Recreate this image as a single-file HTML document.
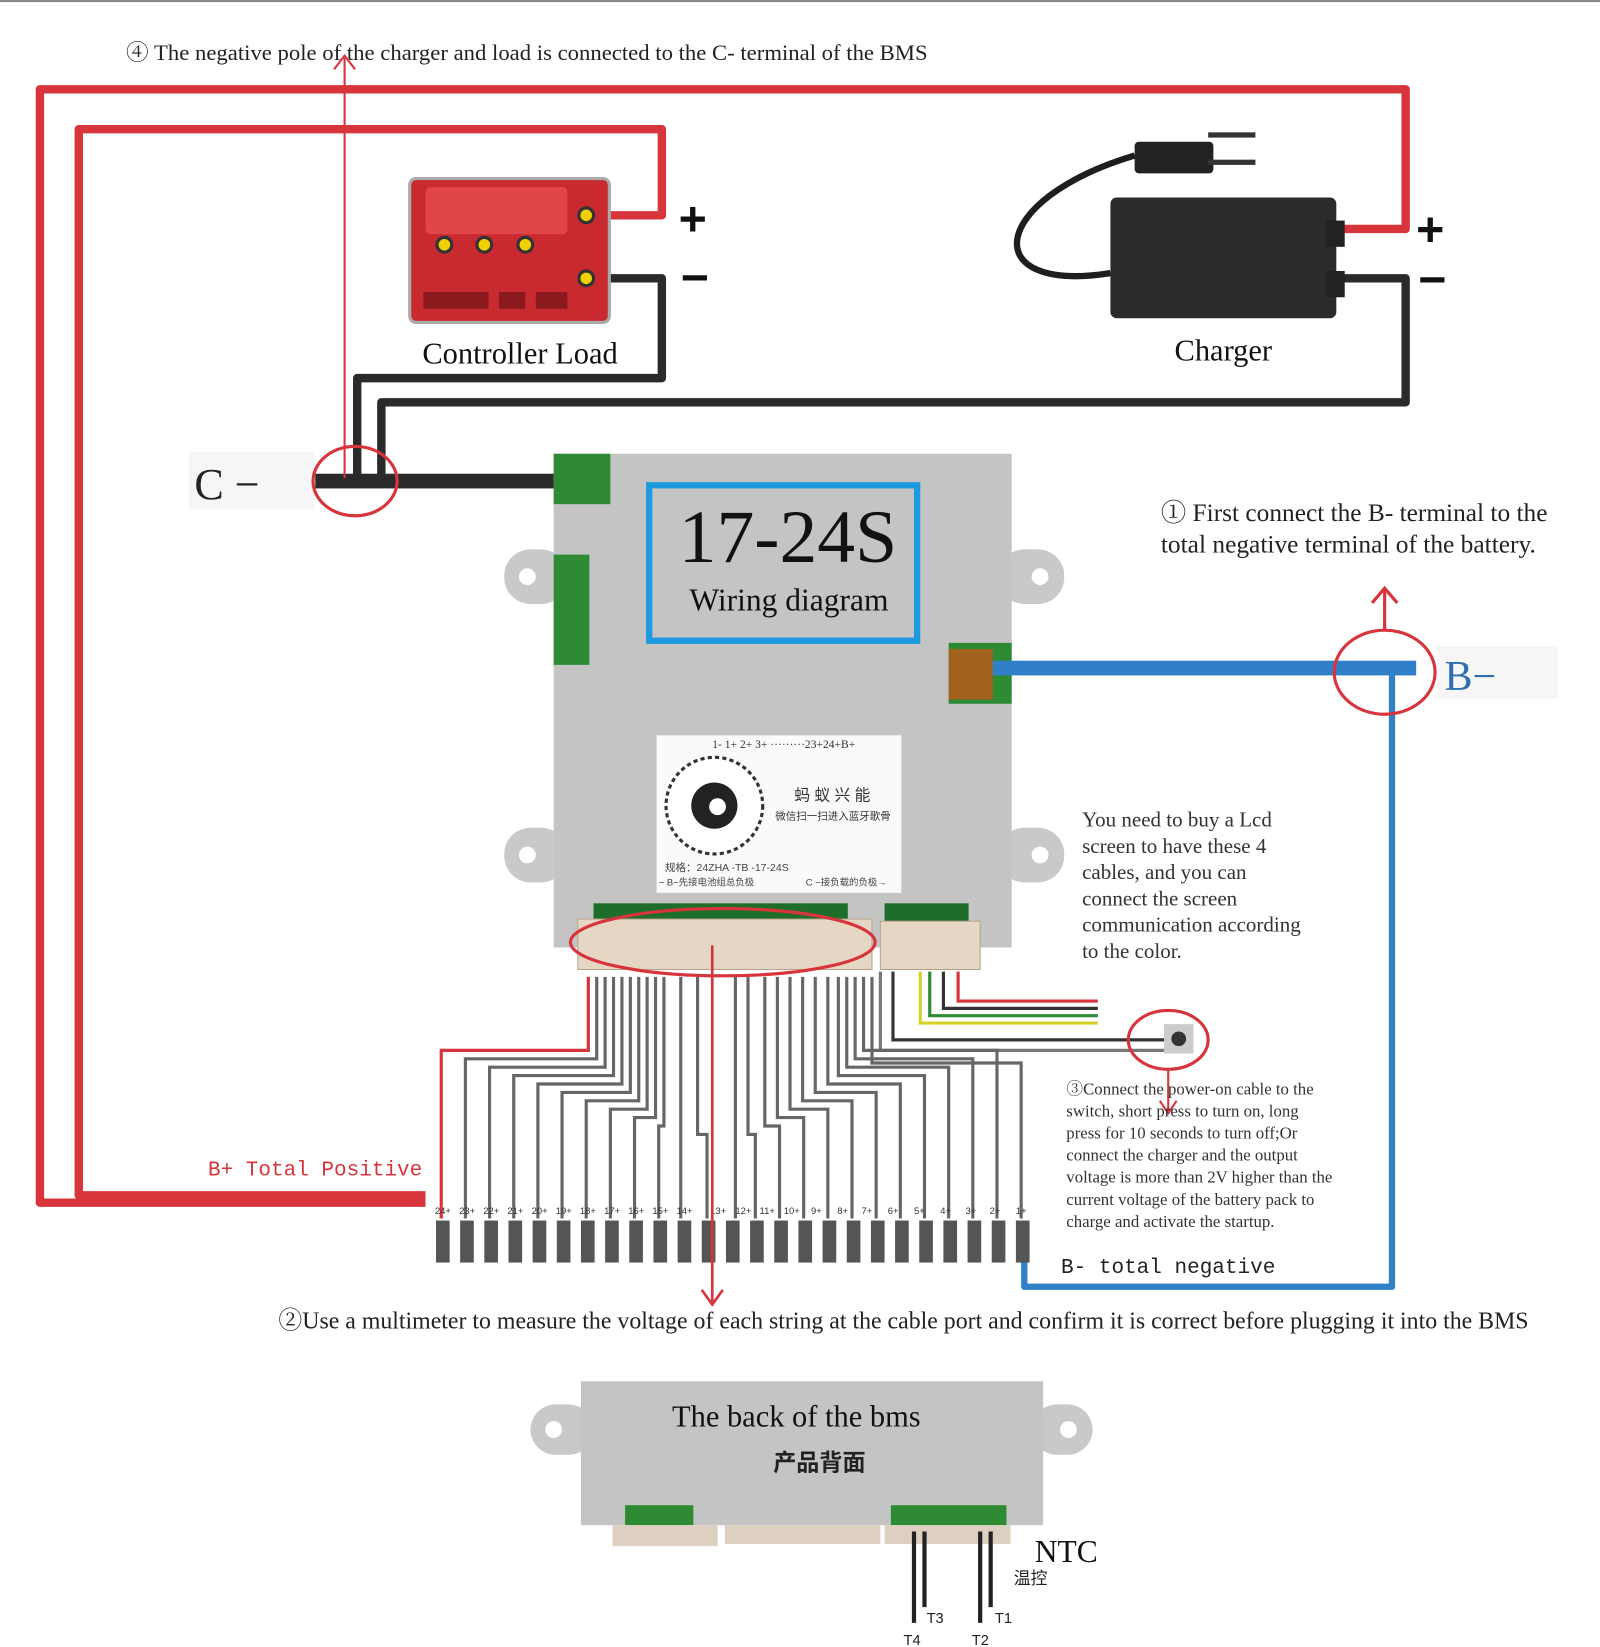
<!DOCTYPE html>
<html><head><meta charset="utf-8"><style>
html,body{margin:0;padding:0;background:#fff;}
svg{display:block;}
.s{font-family:"Liberation Serif","Noto Serif CJK SC",serif;}
.m{font-family:"Liberation Mono",monospace;}
.c{font-family:"Liberation Sans","Noto Sans CJK SC",sans-serif;}
</style></head><body>
<svg width="1600" height="1647" viewBox="0 0 1523 1568" preserveAspectRatio="none" xmlns="http://www.w3.org/2000/svg">
<rect width="1523" height="1568" fill="#fff"/>
<line x1="0" y1="1" x2="1523" y2="1" stroke="#888" stroke-width="2"/>
<text x="120" y="57" class="s" font-size="21" fill="#222" textLength="763" lengthAdjust="spacingAndGlyphs">④ The negative pole of the charger and load is connected to the C- terminal of the BMS</text>

<path d="M405 1145 H38 V85 H1338 V218 H1275" fill="none" stroke="#d8343b" stroke-width="8" stroke-linejoin="round"/>
<path d="M405 1138 H75 V123 H630 V205 H560" fill="none" stroke="#d8343b" stroke-width="8" stroke-linejoin="round"/>
<path d="M560 265 H630 V360 H340 V458" fill="none" stroke="#2a2a2a" stroke-width="8" stroke-linejoin="round"/>
<path d="M1275 265 H1338 V383 H363 V458" fill="none" stroke="#2a2a2a" stroke-width="8" stroke-linejoin="round"/>
<rect x="300" y="451" width="242" height="14" fill="#2a2a2a"/>
<rect x="180" y="430" width="120" height="55" fill="#f6f6f6"/>
<text x="185" y="475" class="s" font-size="42" fill="#222">C −</text>
<line x1="328" y1="455" x2="328" y2="55" stroke="#d8343b" stroke-width="2"/>
<path d="M318 66 L328 53 L338 66" fill="none" stroke="#d8343b" stroke-width="2"/>
<ellipse cx="338" cy="458" rx="40" ry="33" fill="none" stroke="#d8343b" stroke-width="3"/>

<rect x="390" y="170" width="190" height="137" rx="6" fill="#c92a2f" stroke="#aaa" stroke-width="3"/>
<rect x="405" y="178" width="135" height="45" rx="5" fill="#e0454a"/>
<g fill="#f0d000" stroke="#333" stroke-width="3">
<circle cx="423" cy="233" r="7"/><circle cx="461" cy="233" r="7"/><circle cx="500" cy="233" r="7"/><circle cx="558" cy="205" r="7"/><circle cx="558" cy="265" r="7"/></g>
<rect x="403" y="278" width="62" height="16" fill="#8a1a1d"/><rect x="475" y="278" width="25" height="16" fill="#8a1a1d"/><rect x="510" y="278" width="30" height="16" fill="#8a1a1d"/>
<text x="646" y="224" class="c" font-size="46" font-weight="bold" fill="#111">+</text>
<text x="648" y="280" class="c" font-size="46" font-weight="bold" fill="#111">−</text>
<text x="402" y="346" class="s" font-size="29" fill="#111">Controller Load</text>

<path d="M1057 260 C930 280 940 190 1080 148" fill="none" stroke="#1e1e1e" stroke-width="6"/>
<rect x="1080" y="135" width="75" height="30" rx="4" fill="#222"/>
<rect x="1150" y="126" width="45" height="5" fill="#333"/><rect x="1150" y="152" width="45" height="5" fill="#333"/>
<rect x="1057" y="188" width="215" height="115" rx="6" fill="#2b2b2b"/>
<rect x="1262" y="210" width="18" height="25" fill="#222"/><rect x="1262" y="258" width="18" height="25" fill="#222"/>
<text x="1348" y="234" class="c" font-size="46" font-weight="bold" fill="#111">+</text>
<text x="1350" y="282" class="c" font-size="46" font-weight="bold" fill="#111">−</text>
<text x="1118" y="343" class="s" font-size="29" fill="#111">Charger</text>

<g fill="#c9c9c9">
<rect x="480" y="523" width="60" height="52" rx="25"/><rect x="480" y="788" width="60" height="52" rx="25"/>
<rect x="950" y="523" width="63" height="52" rx="25"/><rect x="950" y="788" width="63" height="52" rx="25"/></g>
<g fill="#fff"><circle cx="502" cy="549" r="8"/><circle cx="502" cy="814" r="8"/><circle cx="990" cy="549" r="8"/><circle cx="990" cy="814" r="8"/></g>
<rect x="527" y="432" width="436" height="470" fill="#c4c4c4"/>
<rect x="527" y="432" width="54" height="48" fill="#2e8b34"/>
<rect x="527" y="528" width="34" height="105" fill="#2e8b34"/>
<rect x="903" y="612" width="60" height="58" fill="#2e8b34"/>
<rect x="903" y="618" width="42" height="48" fill="#a2621d"/>
<rect x="618" y="462" width="255" height="148" fill="#c4c4c4" stroke="#1e9be0" stroke-width="6"/>
<text x="750" y="535" class="s" font-size="72" fill="#111" text-anchor="middle">17-24S</text>
<text x="751" y="581" class="s" font-size="30" fill="#111" text-anchor="middle">Wiring diagram</text>
<rect x="625" y="700" width="233" height="150" fill="#fafafa"/>
<text x="678" y="712" class="s" font-size="11" fill="#333">1- 1+ 2+ 3+ ·········23+24+B+</text>
<circle cx="680" cy="767" r="46" fill="#fff" stroke="#333" stroke-width="3" stroke-dasharray="4 3"/>
<circle cx="680" cy="767" r="22" fill="#222"/><circle cx="683" cy="768" r="8" fill="#fff"/>
<text x="756" y="762" class="c" font-size="15" fill="#333">蚂 蚁 兴 能</text>
<text x="738" y="780" class="c" font-size="10" fill="#333">微信扫一扫进入蓝牙歌骨</text>
<text x="633" y="829" class="c" font-size="10" fill="#444">规格：24ZHA -TB -17-24S</text>
<text x="627" y="843" class="c" font-size="9" fill="#444">− B−先接电池组总负极</text>
<text x="767" y="843" class="c" font-size="9" fill="#444">C −接负载的负极→</text>
<rect x="565" y="860" width="242" height="22" fill="#1f6d2a"/>
<rect x="842" y="860" width="80" height="22" fill="#1f6d2a"/>
<rect x="550" y="875" width="280" height="48" fill="#e6d6c4" stroke="#b8a48e"/>
<rect x="838" y="877" width="95" height="46" fill="#e6d6c4" stroke="#b8a48e"/>
<ellipse cx="688" cy="897" rx="145" ry="32" fill="none" stroke="#d8343b" stroke-width="3"/>
<rect x="945" y="629" width="403" height="14" fill="#2f7fc9"/>
<path d="M1325 640 V1225 H975 V1195" fill="none" stroke="#2f7fc9" stroke-width="6" stroke-linejoin="round"/>
<ellipse cx="1318" cy="640" rx="48" ry="40" fill="none" stroke="#d8343b" stroke-width="3"/>
<line x1="1318" y1="600" x2="1318" y2="562" stroke="#d8343b" stroke-width="3"/>
<path d="M1306 574 L1318 560 L1330 574" fill="none" stroke="#d8343b" stroke-width="3"/>
<rect x="1368" y="615" width="115" height="50" fill="#f6f6f6"/>
<text x="1375" y="657" class="s" font-size="40" fill="#2f6fb0">B−</text>
<text x="1105" y="496" class="s" font-size="24" fill="#222" textLength="368" lengthAdjust="spacingAndGlyphs">① First connect the B- terminal to the</text>
<text x="1105" y="526" class="s" font-size="24" fill="#222" textLength="357" lengthAdjust="spacingAndGlyphs">total negative terminal of the battery.</text>
<g class="s" font-size="20" fill="#333">
<text x="1030" y="787">You need to buy a Lcd</text><text x="1030" y="812">screen to have these 4</text><text x="1030" y="837">cables, and you can</text><text x="1030" y="862">connect the screen</text><text x="1030" y="887">communication according</text><text x="1030" y="912"> to the color.</text></g>
<path d="M912 925 V953 H1045" fill="none" stroke="#d8343b" stroke-width="3"/>
<path d="M898 925 V960 H1045" fill="none" stroke="#333" stroke-width="3"/>
<path d="M885 925 V967 H1045" fill="none" stroke="#2e8b34" stroke-width="3"/>
<path d="M876 925 V974 H1045" fill="none" stroke="#d6d02a" stroke-width="3"/>
<path d="M850 925 V990 H1110" fill="none" stroke="#333" stroke-width="3"/>
<path d="M838 925 V1000 H1110" fill="none" stroke="#777" stroke-width="3"/>
<rect x="1108" y="975" width="28" height="28" fill="#ccc"/><circle cx="1122" cy="989" r="7" fill="#333"/>
<ellipse cx="1112" cy="990" rx="38" ry="28" fill="none" stroke="#d8343b" stroke-width="3"/>
<line x1="1112" y1="1018" x2="1112" y2="1058" stroke="#d8343b" stroke-width="2"/>
<path d="M1104 1048 L1112 1060 L1120 1048" fill="none" stroke="#d8343b" stroke-width="2"/>
<g fill="none" stroke="#666" stroke-width="3">
<path d="M560 930 V1000 H420 V1160" stroke="#d8343b"/>
<path d="M568 930 V1008 H443 V1160"/><path d="M576 930 V1016 H466 V1160"/><path d="M584 930 V1024 H489 V1160"/><path d="M592 930 V1032 H512 V1160"/><path d="M600 930 V1040 H535 V1160"/><path d="M608 930 V1048 H558 V1160"/><path d="M616 930 V1056 H581 V1160"/><path d="M624 930 V1064 H604 V1160"/><path d="M632 930 V1072 H627 V1160"/><path d="M648 930 V1160"/><path d="M664 930 V1080 H673 V1160"/>
<path d="M700 930 V1160"/><path d="M712 930 V1080 H719 V1160"/><path d="M728 930 V1072 H742 V1160"/><path d="M740 930 V1064 H765 V1160"/><path d="M752 930 V1056 H788 V1160"/><path d="M764 930 V1048 H811 V1160"/><path d="M776 930 V1040 H834 V1160"/><path d="M788 930 V1032 H857 V1160"/><path d="M798 930 V1024 H880 V1160"/><path d="M806 930 V1016 H903 V1160"/><path d="M814 930 V1008 H926 V1160"/><path d="M822 930 V1000 H949 V1160"/><path d="M830 930 V1012 H972 V1160"/></g>
<g fill="#555">
<rect x="415" y="1162" width="13" height="40"/><rect x="438" y="1162" width="13" height="40"/><rect x="461" y="1162" width="13" height="40"/><rect x="484" y="1162" width="13" height="40"/><rect x="507" y="1162" width="13" height="40"/><rect x="530" y="1162" width="13" height="40"/><rect x="553" y="1162" width="13" height="40"/><rect x="576" y="1162" width="13" height="40"/><rect x="599" y="1162" width="13" height="40"/><rect x="622" y="1162" width="13" height="40"/><rect x="645" y="1162" width="13" height="40"/><rect x="668" y="1162" width="13" height="40"/><rect x="691" y="1162" width="13" height="40"/><rect x="714" y="1162" width="13" height="40"/><rect x="737" y="1162" width="13" height="40"/><rect x="760" y="1162" width="13" height="40"/><rect x="783" y="1162" width="13" height="40"/><rect x="806" y="1162" width="13" height="40"/><rect x="829" y="1162" width="13" height="40"/><rect x="852" y="1162" width="13" height="40"/><rect x="875" y="1162" width="13" height="40"/><rect x="898" y="1162" width="13" height="40"/><rect x="921" y="1162" width="13" height="40"/><rect x="944" y="1162" width="13" height="40"/><rect x="967" y="1162" width="13" height="40"/></g>
<g class="c" font-size="9" fill="#333">
<text x="414" y="1156">24+</text><text x="437" y="1156">23+</text><text x="460" y="1156">22+</text><text x="483" y="1156">21+</text><text x="506" y="1156">20+</text><text x="529" y="1156">19+</text><text x="552" y="1156">18+</text><text x="575" y="1156">17+</text><text x="598" y="1156">16+</text><text x="621" y="1156">15+</text><text x="644" y="1156">14+</text><text x="676" y="1156">13+</text><text x="700" y="1156">12+</text><text x="723" y="1156">11+</text><text x="746" y="1156">10+</text><text x="772" y="1156">9+</text><text x="797" y="1156">8+</text><text x="820" y="1156">7+</text><text x="845" y="1156">6+</text><text x="870" y="1156">5+</text><text x="895" y="1156">4+</text><text x="919" y="1156">3+</text><text x="942" y="1156">2+</text><text x="967" y="1156">1+</text></g>
<text x="198" y="1119" class="m" font-size="20" fill="#d8343b">B+ Total Positive</text>
<line x1="678" y1="900" x2="678" y2="1240" stroke="#d8343b" stroke-width="2.5"/>
<path d="M668 1228 L678 1242 L688 1228" fill="none" stroke="#d8343b" stroke-width="2.5"/>
<g class="s" font-size="16" fill="#333">
<text x="1015" y="1042">③Connect the power-on cable to the</text><text x="1015" y="1063">switch, short press to turn on, long</text><text x="1015" y="1084">press for 10 seconds to turn off;Or</text><text x="1015" y="1105">connect the charger and the output</text><text x="1015" y="1126">voltage is more than 2V higher than the</text><text x="1015" y="1147"> current voltage of the battery pack to</text><text x="1015" y="1168">charge and activate the startup.</text></g>
<text x="1010" y="1212" class="m" font-size="20" fill="#222">B- total negative</text>
<text x="265" y="1265" class="s" font-size="23" fill="#222" textLength="1190" lengthAdjust="spacingAndGlyphs">②Use a multimeter to measure the voltage of each string at the cable port and confirm it is correct before plugging it into the BMS</text>

<rect x="505" y="1337" width="60" height="48" rx="24" fill="#c9c9c9"/><rect x="982" y="1337" width="58" height="48" rx="24" fill="#c9c9c9"/>
<circle cx="527" cy="1361" r="8" fill="#fff"/><circle cx="1017" cy="1361" r="8" fill="#fff"/>
<rect x="553" y="1315" width="440" height="137" fill="#c4c4c4"/>
<rect x="595" y="1433" width="65" height="19" fill="#2e8b34"/><rect x="848" y="1433" width="110" height="19" fill="#2e8b34"/>
<rect x="583" y="1452" width="100" height="20" fill="#ddd0c0"/><rect x="690" y="1452" width="148" height="18" fill="#ddd0c0"/><rect x="842" y="1452" width="120" height="18" fill="#ddd0c0"/>
<text x="758" y="1358" class="s" font-size="29" fill="#111" text-anchor="middle">The back of the bms</text>
<text x="780" y="1400" class="c" font-size="22" font-weight="bold" fill="#222" text-anchor="middle">产品背面</text>
<g stroke="#222" stroke-width="4"><line x1="870" y1="1458" x2="870" y2="1545"/><line x1="880" y1="1458" x2="880" y2="1530"/><line x1="933" y1="1458" x2="933" y2="1545"/><line x1="943" y1="1458" x2="943" y2="1530"/></g>
<text x="985" y="1487" class="s" font-size="30" fill="#111">NTC</text>
<text x="965" y="1508" class="c" font-size="16" fill="#222">温控</text>
<g class="c" font-size="14" fill="#222"><text x="882" y="1545">T3</text><text x="947" y="1545">T1</text><text x="860" y="1566">T4</text><text x="925" y="1566">T2</text></g>
</svg>
</body></html>
